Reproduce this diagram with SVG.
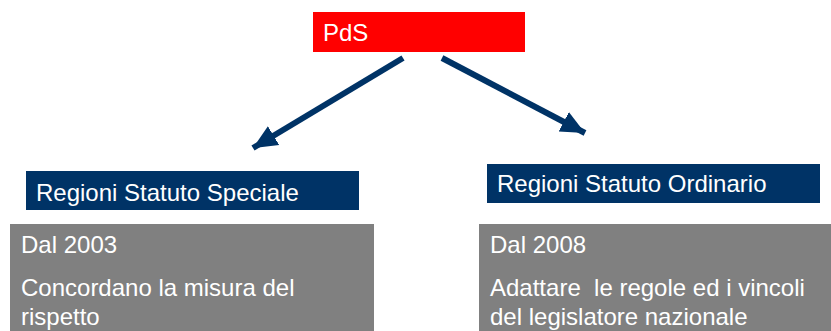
<svg xmlns="http://www.w3.org/2000/svg" width="831" height="331" viewBox="0 0 831 331">
<defs>
<style>
text{font-family:"Liberation Sans",Arial,sans-serif;fill:#fff;font-size:24px}
.navy{fill:#003366}
.gray{fill:#808080}
.conn{stroke:#003366;stroke-width:6;fill:none}
</style>
<marker id="ah" markerUnits="userSpaceOnUse" markerWidth="26" markerHeight="26" viewBox="0 0 26 26" refX="24" refY="13" orient="auto">
<path d="M0,2 L24,13 L0,24 Z" fill="#003366"/>
</marker>
</defs>
<rect width="831" height="331" fill="#fff"/>
<g id="connectors">
<line class="conn" x1="403" y1="58" x2="253" y2="148" marker-end="url(#ah)"/>
<line class="conn" x1="442" y1="58" x2="585" y2="133" marker-end="url(#ah)"/>
</g>
<g id="pds">
<rect x="313" y="12" width="212" height="40" fill="#ff0000"/>
<text x="323" y="41">PdS</text>
</g>
<g id="speciale">
<rect class="navy" x="26" y="171" width="333" height="39"/>
<text x="36" y="201">Regioni Statuto Speciale</text>
</g>
<g id="ordinario">
<rect class="navy" x="487" y="164" width="333" height="39"/>
<text x="497" y="192">Regioni Statuto Ordinario</text>
</g>
<g id="speciale-desc">
<rect class="gray" x="10" y="224" width="364" height="107"/>
<text x="21" y="253">Dal 2003</text>
<text x="21" y="296">Concordano la misura del</text>
<text x="21" y="325">rispetto</text>
</g>
<g id="ordinario-desc">
<rect class="gray" x="479" y="224" width="352" height="107"/>
<text x="490" y="253">Dal 2008</text>
<text x="490" y="296" xml:space="preserve">Adattare  le regole ed i vincoli</text>
<text x="490" y="325">del legislatore nazionale</text>
</g>
</svg>
